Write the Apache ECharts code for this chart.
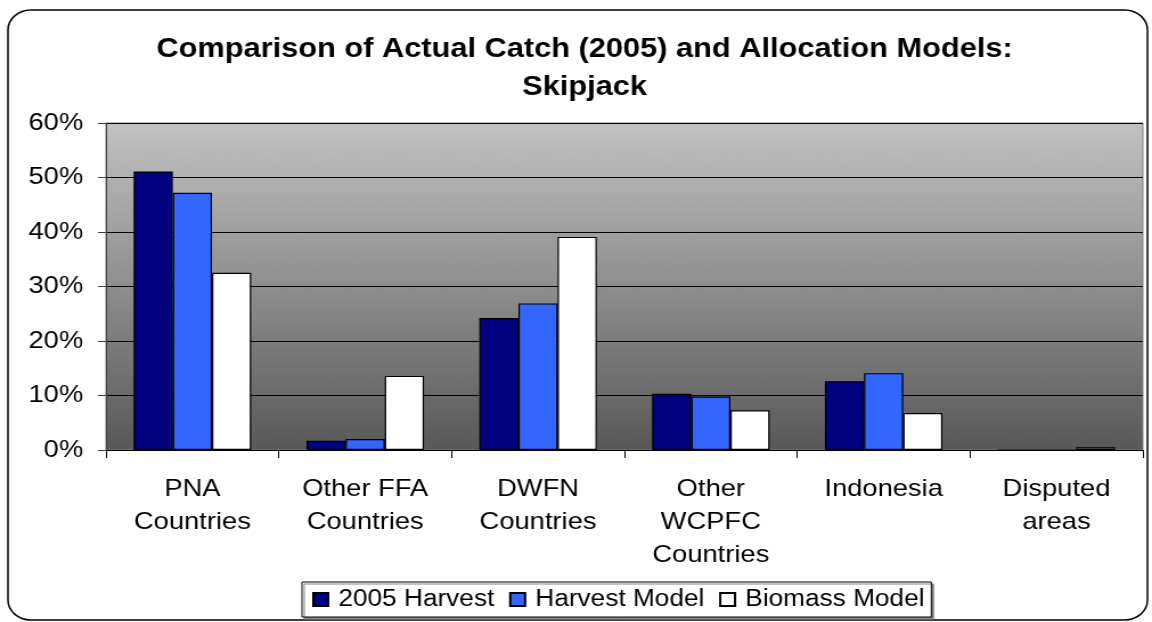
<!DOCTYPE html>
<html>
<head>
<meta charset="utf-8">
<script src="https://cdn.jsdelivr.net/npm/echarts@6/dist/echarts.min.js"></script>
<style>
  html, body { margin: 0; padding: 0; background: #fff; overflow: hidden; }
  #chart { height: 622px; transform-origin: 0 0; }
</style>
</head>
<body>
<div id="chart"></div>
<script>
// source picture is a stretched slide, so draw narrower and scale horizontally
var SX = 1.14;

var categories = ['PNA\nCountries', 'Other FFA\nCountries', 'DWFN\nCountries', 'Other\nWCPFC\nCountries', 'Indonesia', 'Disputed\nareas'];
var harvest2005 = [51.1, 1.7, 24.2, 10.3, 12.6, 0];
var harvestModel = [47.2, 2.0, 26.9, 9.8, 14.1, 0];
var biomassModel = [32.5, 13.6, 39.1, 7.3, 6.8, 0.5];
var seriesNames = ['2005 Harvest', 'Harvest Model', 'Biomass Model'];
var seriesColors = ['#000080', '#3366ff', '#ffffff'];

(function() {
  var el = document.getElementById('chart');
  var w = Math.round(1152 / SX);
  el.style.width = w + 'px';
  el.style.transform = 'scaleX(' + (1152 / w) + ')';

  var font = '"Liberation Sans", Arial, sans-serif';
  var chart = echarts.init(el, null, { renderer: 'canvas' });

  function bar(name, data, color) {
    return {
      name: name,
      type: 'bar',
      data: data,
      barGap: '0%',
      barCategoryGap: '32%',
      itemStyle: { color: color, borderColor: '#000', borderWidth: 1.2 },
    };
  }

  chart.setOption({
    animation: false,
    textStyle: { fontFamily: font },
    title: {
      text: 'Comparison of Actual Catch (2005) and Allocation Models:\nSkipjack',
      left: 513,
      top: 31,
      padding: 0,
      textAlign: 'center',
      textStyle: { fontSize: 27, fontWeight: 'bold', color: '#000', lineHeight: 38, fontFamily: font },
    },
    graphic: [{
      type: 'rect',
      shape: { x: 7, y: 10, width: 1000, height: 610, r: 20 },
      style: { fill: null, stroke: '#000', lineWidth: 1.5 },
      silent: true,
    }],
    legend: {
      data: seriesNames,
      left: 265,
      top: 582,
      padding: [6, 6, 6, 9],
      itemGap: 13,
      itemWidth: 13,
      itemHeight: 13,
      icon: 'rect',
      borderColor: '#000',
      borderWidth: 1,
      shadowColor: '#888',
      shadowOffsetX: 2,
      shadowOffsetY: 2,
      backgroundColor: '#fff',
      textStyle: { fontSize: 23, color: '#000', padding: [0, 0, 0, 4], fontFamily: font },
    },
    grid: {
      left: 93, right: 8, top: 123, bottom: 172,
      show: true,
      borderColor: '#808080',
      borderWidth: 1,
      backgroundColor: new echarts.graphic.LinearGradient(0, 0, 0, 1, [
        { offset: 0, color: '#c2c2c2' },
        { offset: 0.5, color: '#8e8e8e' },
        { offset: 1, color: '#585858' },
      ]),
    },
    xAxis: {
      type: 'category',
      data: categories,
      axisLine: { lineStyle: { color: '#000', width: 1 } },
      axisTick: { show: true, length: 8, lineStyle: { color: '#000' } },
      axisLabel: { color: '#000', fontSize: 24, lineHeight: 33, margin: 23, interval: 0, fontFamily: font },
    },
    yAxis: {
      type: 'value',
      min: 0,
      max: 60,
      interval: 10,
      axisLine: { show: true, lineStyle: { color: '#404040', width: 1 } },
      axisTick: { show: true, length: 7, lineStyle: { color: '#404040' } },
      axisLabel: { color: '#000', fontSize: 24, margin: 20, formatter: '{value}%', fontFamily: font },
      splitLine: { lineStyle: { color: '#000', width: 1 } },
    },
    series: [
      bar(seriesNames[0], harvest2005, seriesColors[0]),
      bar(seriesNames[1], harvestModel, seriesColors[1]),
      bar(seriesNames[2], biomassModel, seriesColors[2]),
    ],
  });
})();
</script>
</body>
</html>
